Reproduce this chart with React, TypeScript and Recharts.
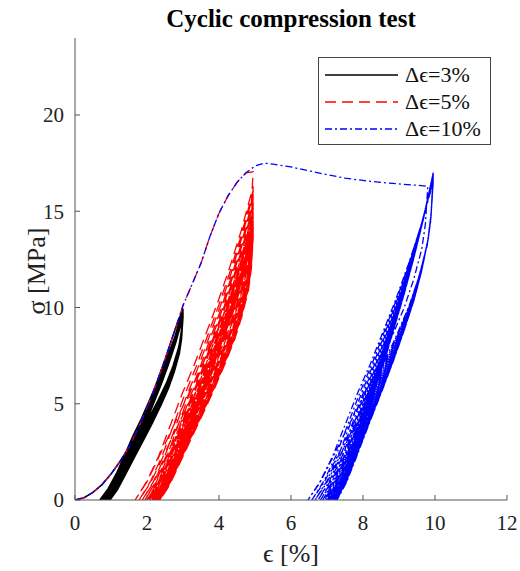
import { Legend, Line, LineChart, XAxis, YAxis } from "recharts";

type Pt = { x: number; y: number };

const X_TICKS = [0, 2, 4, 6, 8, 10, 12];
const Y_TICKS = [0, 5, 10, 15, 20];

// first (monotonic) loading branch, shared by all three tests
const LOADING_STRAIN = [0, 0.25, 0.5, 0.75, 1.0, 1.25, 1.5, 1.75, 2.0, 2.25, 2.5, 2.75, 3.0, 3.25, 3.5, 3.75, 4.0, 4.25, 4.5, 4.75, 5.0, 5.25];
const LOADING_STRESS = [0, 0.12, 0.4, 0.8, 1.35, 2.0, 2.75, 3.7, 4.8, 6.0, 7.3, 8.7, 10.1, 11.2, 12.3, 13.7, 14.9, 15.8, 16.5, 17.0, 17.35, 17.5];

// softening part of the 10% test after the stress peak
const SOFTENING_STRAIN = [5.5, 6.0, 6.5, 7.0, 7.5, 8.0, 8.5, 9.0, 9.5, 9.8];
const SOFTENING_STRESS = [17.45, 17.3, 17.1, 16.9, 16.72, 16.6, 16.5, 16.42, 16.35, 16.3];

// normalised unloading / reloading branch of one cycle (strain fraction, stress fraction)
const UNLOAD_F = [1, 0.98, 0.95, 0.88, 0.8, 0.7, 0.58, 0.45, 0.33, 0.2, 0.1, 0];
const UNLOAD_G = [1, 0.88, 0.8, 0.7, 0.61, 0.52, 0.42, 0.32, 0.23, 0.13, 0.055, 0];
const RELOAD_F = [0, 0.1, 0.2, 0.3, 0.4, 0.5, 0.6, 0.7, 0.8, 0.9, 1];
const RELOAD_G = [0, 0.06, 0.14, 0.24, 0.34, 0.43, 0.53, 0.63, 0.74, 0.86, 1];

// Δε = 3%
const BLACK_MAX_STRAIN = 3.0;
const BLACK_LOAD_END = 9.95;
const BLACK_RESIDUAL = [0.69, 0.74, 0.78, 0.81, 0.835, 0.855, 0.87, 0.885, 0.895, 0.905, 0.915, 0.922, 0.93, 0.936, 0.942, 0.948, 0.953, 0.958, 0.962, 0.966, 0.97, 0.973];
const BLACK_PEAK = [9.85, 9.8, 9.75, 9.72, 9.7, 9.68, 9.66, 9.64, 9.62, 9.6, 9.59, 9.58, 9.57, 9.56, 9.55, 9.54, 9.53, 9.52, 9.51, 9.5, 9.5];

// Δε = 5%
const RED_MAX_STRAIN = 4.95;
const RED_LOAD_END = 17.05;
const RED_RESIDUAL = [1.67, 1.78, 1.87, 1.94, 2.0, 2.04, 2.08, 2.11, 2.14, 2.16, 2.18, 2.2, 2.22, 2.23, 2.25, 2.26, 2.27, 2.28, 2.29, 2.3, 2.31, 2.32, 2.33, 2.34, 2.35, 2.355, 2.36];
const RED_PEAK = [16.3, 16.1, 15.9, 15.7, 15.5, 15.35, 15.2, 15.05, 14.9, 14.8, 14.7, 14.6, 14.5, 14.4, 14.3, 14.2, 14.15, 14.1, 14.0, 13.95, 13.9, 13.85, 13.8, 13.75, 13.7, 13.65];

// Δε = 10%
const BLUE_MAX_STRAIN = 9.95;
const BLUE_RESIDUAL = [6.47, 6.58, 6.67, 6.75, 6.82, 6.88, 6.93, 6.97, 7.0, 7.03, 7.06, 7.08, 7.1, 7.12, 7.14, 7.16, 7.17, 7.19, 7.2, 7.21, 7.22, 7.23, 7.24, 7.25, 7.26, 7.27, 7.28];
const BLUE_PEAK = [16.5, 16.6, 16.65, 16.7, 16.75, 16.8, 16.83, 16.86, 16.88, 16.9, 16.92, 16.93, 16.94, 16.95, 16.96, 16.97, 16.97, 16.98, 16.98, 16.99, 16.99, 17.0, 17.0, 17.0, 17.0, 17.0];

const LEGEND_ITEMS = [
  { label: "Δϵ=3%", color: "#000000", dash: "none" },
  { label: "Δϵ=5%", color: "#ff0000", dash: "11 6" },
  { label: "Δϵ=10%", color: "#0000ff", dash: "7 3 2 3" },
];

function loadingUpTo(endStrain: number, endStress: number): Pt[] {
  const pts: Pt[] = [];
  LOADING_STRAIN.forEach((x, i) => {
    if (x < endStrain - 1e-6) pts.push({ x, y: LOADING_STRESS[i] });
  });
  pts.push({ x: endStrain, y: endStress });
  return pts;
}

function addCycles(pts: Pt[], xMax: number, residual: number[], peaks: number[]): Pt[] {
  let from = pts[pts.length - 1];
  residual.forEach((r, n) => {
    UNLOAD_F.forEach((f, i) => pts.push({ x: r + f * (from.x - r), y: UNLOAD_G[i] * from.y }));
    if (peaks[n] === undefined) return;
    RELOAD_F.forEach((f, i) => pts.push({ x: r + f * (xMax - r), y: RELOAD_G[i] * peaks[n] }));
    from = { x: xMax, y: peaks[n] };
  });
  return pts;
}

const blackData = addCycles(loadingUpTo(BLACK_MAX_STRAIN, BLACK_LOAD_END), BLACK_MAX_STRAIN, BLACK_RESIDUAL, BLACK_PEAK);
const redData = addCycles(loadingUpTo(RED_MAX_STRAIN, RED_LOAD_END), RED_MAX_STRAIN, RED_RESIDUAL, RED_PEAK);
const blueData = addCycles(
  [
    ...LOADING_STRAIN.map((x, i) => ({ x, y: LOADING_STRESS[i] })),
    ...SOFTENING_STRAIN.map((x, i) => ({ x, y: SOFTENING_STRESS[i] })),
  ],
  BLUE_MAX_STRAIN,
  BLUE_RESIDUAL,
  BLUE_PEAK
);

const FONT = "'Liberation Serif', 'Times New Roman', serif";
const tickStyle = { fontFamily: FONT, fontSize: 21, fill: "#222" };

function LegendBox() {
  return (
    <div style={{ width: 173, height: 88, border: "1px solid #444", background: "#fff", boxSizing: "border-box" }}>
      <svg width={171} height={86} style={{ display: "block" }}>
        {LEGEND_ITEMS.map((item, i) => {
          const y = 17 + i * 27;
          return (
            <g key={item.label}>
              <path d={`M6 ${y}H79`} fill="none" stroke={item.color} strokeWidth={1.5} strokeDasharray={item.dash} />
              <text x={86} y={y + 7} fontFamily={FONT} fontSize={22} fill="#111">
                {item.label}
              </text>
            </g>
          );
        })}
      </svg>
    </div>
  );
}

export default function App() {
  return (
    <div style={{ position: "absolute", left: 0, top: 0, width: 520, height: 571, background: "#fff" }}>
      <LineChart width={520} height={571} margin={{ top: 38, right: 13, bottom: 0, left: 0 }}>
        <XAxis
          type="number"
          dataKey="x"
          domain={[0, 12]}
          ticks={X_TICKS}
          allowDataOverflow
          height={71}
          stroke="#555"
          tickSize={-5}
          tickMargin={20}
          tick={tickStyle}
        />
        <YAxis
          type="number"
          dataKey="y"
          domain={[0, 24]}
          ticks={Y_TICKS}
          allowDataOverflow
          width={75}
          stroke="#555"
          tickSize={-5}
          tickMargin={16}
          tick={tickStyle}
        />
        <Line data={blackData} dataKey="y" name="Δϵ=3%" type="linear" stroke="#000000" strokeWidth={1.5} dot={false} isAnimationActive={false} />
        <Line data={redData} dataKey="y" name="Δϵ=5%" type="linear" stroke="#ff0000" strokeWidth={1.3} strokeDasharray="11 6" dot={false} isAnimationActive={false} />
        <Line data={blueData} dataKey="y" name="Δϵ=10%" type="linear" stroke="#0000ff" strokeWidth={1.3} strokeDasharray="7 3 2 3" dot={false} isAnimationActive={false} />
        <Legend
          layout="vertical"
          align="center"
          verticalAlign="middle"
          wrapperStyle={{ left: 318, top: 57, width: 173 }}
          content={() => <LegendBox />}
        />
      </LineChart>
      <svg width={520} height={571} style={{ position: "absolute", left: 0, top: 0, pointerEvents: "none" }}>
        <text x={291} y={27} textAnchor="middle" fontFamily={FONT} fontSize={25} fontWeight="bold" fill="#000">
          Cyclic compression test
        </text>
        <text x={291} y={562} textAnchor="middle" fontFamily={FONT} fontSize={26} fill="#222">
          ϵ [%]
        </text>
        <text x={45} y={271} textAnchor="middle" fontFamily={FONT} fontSize={26} fill="#222" transform="rotate(-90, 45, 271)">
          σ [MPa]
        </text>
      </svg>
    </div>
  );
}
